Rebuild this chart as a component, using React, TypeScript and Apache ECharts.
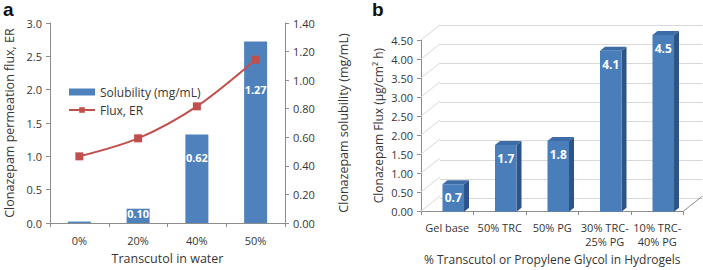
import React, { useEffect, useRef } from "react";
import * as echarts from "echarts";

// ---- Panel a data ----
const transcutolCats = ["0%", "20%", "40%", "50%"];
const solubility = [0.01, 0.1, 0.62, 1.27]; // mg/mL (right axis)
const fluxER = [1.0, 1.27, 1.75, 2.45]; // left axis
const solubilityLabelDy = [0, 5, 23, 48]; // label centre below bar top (style)

// ---- Panel b data ----
const hydrogelCats = ["Gel base", "50% TRC", "50% PG", "30% TRC-\n25% PG", "10% TRC-\n40% PG"];
const hydrogelFlux = [0.7, 1.7, 1.8, 4.1, 4.5];
const fluxTicks = [0, 0.5, 1, 1.5, 2, 2.5, 3, 3.5, 4, 4.5];

const FONT = "'Open Sans', 'Noto Sans', sans-serif";
const TXT = "#363636";
const AXIS = "#8C8C8C";
const DX = 19;
const DY = -15;
const BDX = 5;
const BDY = -4;

export default function App() {
  const ref = useRef<HTMLDivElement>(null);
  useEffect(() => {
    const chart = echarts.init(ref.current!, undefined, { renderer: "svg" });
    const axisLine = { show: true, lineStyle: { color: AXIS, width: 1 } };
    const tick = { show: true, length: 4, lineStyle: { color: AXIS } };
    const lbl = { color: TXT, fontFamily: FONT, fontSize: 11, interval: 0 };
    const nameStyle = { color: TXT, fontFamily: FONT, fontSize: 12 };
    const nameStyleA = { color: TXT, fontFamily: FONT, fontSize: 12.5 };

    const option: any = {
      animation: false,
      textStyle: { fontFamily: FONT },
      graphic: [
        { type: "text", left: 3, top: 0, style: { text: "a", font: "bold 19px 'Liberation Sans', Arial", fill: "#111" } },
        { type: "text", left: 372, top: 0, style: { text: "b", font: "bold 19px 'Liberation Sans', Arial", fill: "#111" } },
      ],
      legend: {
        orient: "vertical",
        left: 63,
        top: 81,
        itemWidth: 26,
        itemHeight: 7,
        itemGap: 6,
        textStyle: { color: TXT, fontFamily: FONT, fontSize: 12 },
        data: [{ name: "Solubility (mg/mL)", icon: "rect" }, { name: "Flux, ER" }],
      },
      grid: [
        { left: 50, right: 418, top: 23, bottom: 41 },
        { left: 421, right: 19.5, top: 40, bottom: 56.7 },
        { left: 440, right: 0.5, top: 25, bottom: 71.7 },
        { left: 427, right: 13.5, top: 35, bottom: 58.3 },
      ],
      xAxis: [
        {
          type: "category", gridIndex: 0, data: transcutolCats,
          axisLine, axisTick: tick,
          axisLabel: { ...lbl, margin: 12 },
          name: "Transcutol in water", nameLocation: "middle", nameGap: 29, nameTextStyle: nameStyleA,
        },
        {
          type: "category", gridIndex: 1, data: hydrogelCats,
          axisLine, axisTick: { ...tick, interval: 0 },
          axisLabel: { ...lbl, margin: 9, lineHeight: 14 },
          name: "% Transcutol or Propylene Glycol in Hydrogels", nameLocation: "middle", nameGap: 36, nameTextStyle: nameStyle,
        },
        { type: "category", gridIndex: 2, data: hydrogelCats, show: false },
        { type: "category", gridIndex: 3, data: hydrogelCats, show: false },
      ],
      yAxis: [
        {
          type: "value", gridIndex: 0, min: 0, max: 3, interval: 0.5, position: "left",
          axisLine, axisTick: tick, splitLine: { show: false },
          axisLabel: { ...lbl, formatter: (v: number) => v.toFixed(1) },
          name: "Clonazepam permeation flux, ER", nameLocation: "middle", nameGap: 34, nameTextStyle: nameStyleA,
        },
        {
          type: "value", gridIndex: 0, min: 0, max: 1.4, interval: 0.2, position: "right",
          axisLine, axisTick: tick, splitLine: { show: false },
          axisLabel: { ...lbl, formatter: (v: number) => v.toFixed(2) },
          name: "Clonazepam solubility (mg/mL)", nameLocation: "middle", nameGap: 52, nameTextStyle: nameStyleA,
        },
        {
          type: "value", gridIndex: 1, min: 0, max: 4.5, interval: 0.5,
          axisLine, axisTick: tick, splitLine: { show: false },
          axisLabel: { ...lbl, formatter: (v: number) => v.toFixed(2) },
          name: "Clonazepam Flux (µg/cm² h)", nameLocation: "middle", nameGap: 37, nameTextStyle: nameStyle,
        },
        {
          type: "value", gridIndex: 2, min: 0, max: 4.5, interval: 0.5,
          axisLine: { show: false }, axisTick: { show: false }, axisLabel: { show: false },
          splitLine: { show: true, lineStyle: { color: "#D9D9D9", width: 1 } },
        },
        { type: "value", gridIndex: 3, min: 0, max: 4.5, show: false },
      ],
      series: [
        {
          name: "Solubility (mg/mL)", type: "bar", xAxisIndex: 0, yAxisIndex: 1,
          barWidth: 23, itemStyle: { color: "#4F81BD" },
          data: solubility.map((v, i) => ({
            value: v,
            label: {
              show: i > 0,
              position: ["50%", solubilityLabelDy[i]],
              align: "center", verticalAlign: "middle",
              formatter: () => v.toFixed(2),
              color: "#fff", fontWeight: "bold", fontFamily: FONT, fontSize: 11,
            },
          })),
          z: 2,
        },
        {
          name: "Flux, ER", type: "line", xAxisIndex: 0, yAxisIndex: 0,
          data: fluxER, smooth: 0.3,
          lineStyle: { color: "#C0504D", width: 2 },
          itemStyle: { color: "#C0504D" },
          symbol: "rect", symbolSize: 8, z: 3,
        },
        {
          type: "custom", xAxisIndex: 1, yAxisIndex: 2, silent: true, z: 1,
          data: fluxTicks.map((v) => [0, v]),
          renderItem: (params: any, api: any) => {
            const cs = params.coordSys;
            const v = api.value(1);
            const y = api.coord([0, v])[1];
            const st = { stroke: "#D9D9D9", lineWidth: 1 };
            const children: any[] = [
              { type: "line", shape: { x1: cs.x, y1: y, x2: cs.x + DX, y2: y + DY }, style: st },
            ];
            if (v === 0) {
              children.push({
                type: "line",
                shape: { x1: cs.x + cs.width, y1: y, x2: cs.x + cs.width + DX, y2: y + DY },
                style: { stroke: AXIS, lineWidth: 1 },
              });
            }
            return { type: "group", children };
          },
        },
        {
          type: "custom", xAxisIndex: 3, yAxisIndex: 4, silent: true, z: 5,
          data: hydrogelFlux.map((v, i) => [i, v]),
          renderItem: (params: any, api: any) => {
            const i = api.value(0);
            const v = api.value(1);
            const top = api.coord([i, v]);
            const base = api.coord([i, 0]);
            const w = api.size([1, 0])[0] * 0.41;
            const x = top[0] - w / 2;
            return {
              type: "group",
              children: [
                {
                  type: "polygon",
                  shape: { points: [[x + w, top[1]], [x + w + BDX, top[1] + BDY], [x + w + BDX, base[1] + BDY], [x + w, base[1]]] },
                  style: { fill: "#2D5489" },
                },
                {
                  type: "polygon",
                  shape: { points: [[x, top[1]], [x + BDX, top[1] + BDY], [x + w + BDX, top[1] + BDY], [x + w, top[1]]] },
                  style: { fill: "#3D6BA6" },
                },
                {
                  type: "rect",
                  shape: { x, y: top[1], width: w, height: base[1] - top[1] },
                  style: { fill: "#4A7EBB" },
                },
                {
                  type: "text",
                  style: {
                    text: v.toFixed(1), x: top[0], y: top[1] + 13.5,
                    fill: "#fff", fontFamily: FONT, fontSize: 12, fontWeight: "bold",
                    align: "center", verticalAlign: "middle",
                  },
                },
              ],
            };
          },
        },
      ],
    };
    chart.setOption(option);
    return () => chart.dispose();
  }, []);
  return <div ref={ref} style={{ position: "absolute", left: 0, top: 0, width: 703, height: 270 }} />;
}
